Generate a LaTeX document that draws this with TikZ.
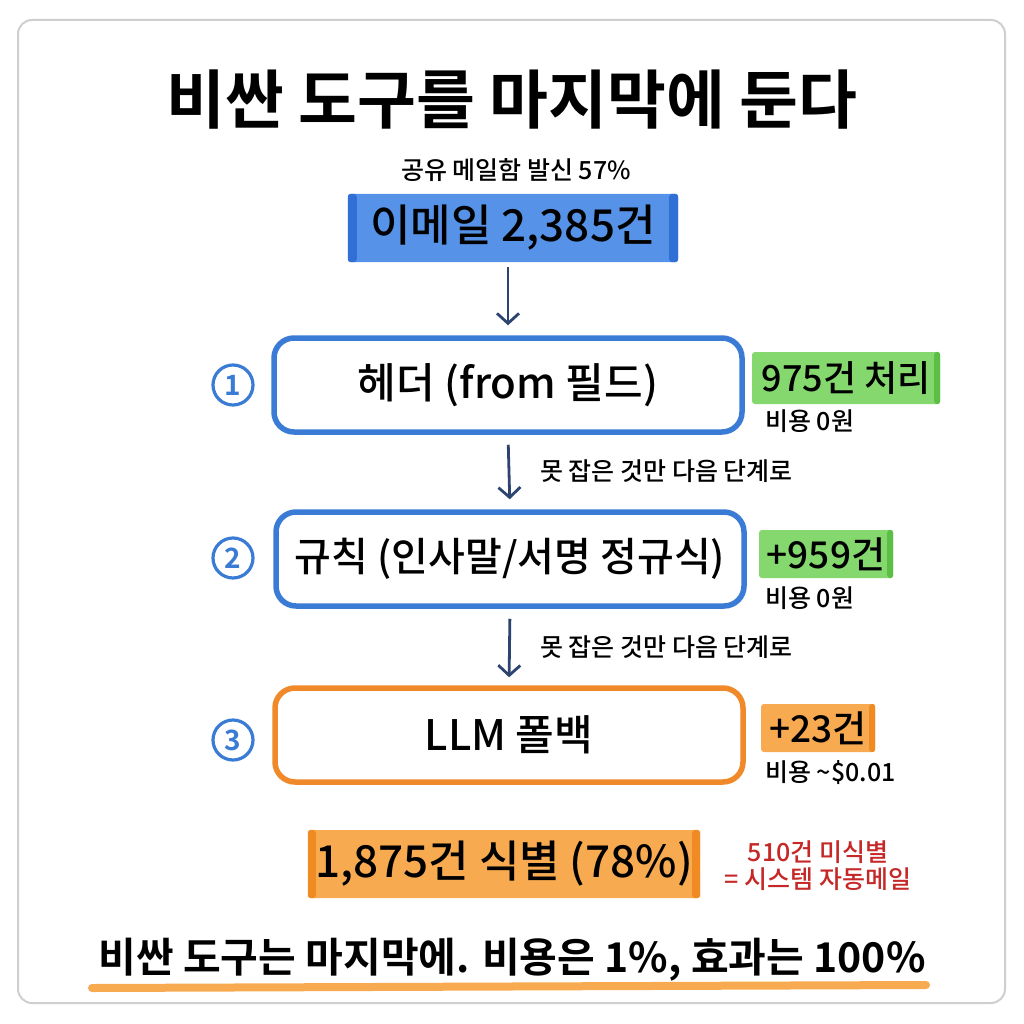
\documentclass[tikz,border=0pt]{standalone}
\usepackage{fontspec}
\setmainfont{Noto Sans CJK KR}[UprightFont=* Medium, BoldFont=* Bold]
\usetikzlibrary{arrows.meta}
\definecolor{hlblue}{HTML}{5592E8}
\definecolor{hlblueend}{HTML}{2F6FD6}
\definecolor{boxblue}{HTML}{3A7BD5}
\definecolor{boxorange}{HTML}{F0892A}
\definecolor{hlgreen}{HTML}{84D86E}
\definecolor{hlgreenend}{HTML}{5DBE46}
\definecolor{hlorange}{HTML}{F8AA50}
\definecolor{hlorangeend}{HTML}{F08A22}
\definecolor{arrowcol}{HTML}{2E4470}
\definecolor{redtext}{HTML}{C62828}
\definecolor{framegray}{HTML}{CFCFCF}
\newcommand{\fsz}[1]{\fontsize{#1}{#1}\selectfont}
\tikzset{
  hl/.style={inner sep=0pt, minimum height=#1, rounded corners=3pt},
  stage/.style={draw, line width=5.5pt, rounded corners=20pt, minimum width=468pt, minimum height=94pt, fill=white, font=\fsz{42}},
  numcirc/.style={circle, draw=boxblue, line width=3.2pt, text=boxblue, minimum size=40pt, inner sep=0pt, font=\fsz{28}\bfseries},
  flow/.style={draw=arrowcol, line width=2.8pt, -{Straight Barb[length=10pt,width=22pt,line width=2.8pt]}},
  small/.style={font=\fsz{25}, anchor=west, inner sep=0pt},
}
\begin{document}
\begin{tikzpicture}[x=1pt,y=-1pt]
\useasboundingbox (0,0) rectangle (1024,1024);
\fill[white] (0,0) rectangle (1024,1024);
\draw[framegray, line width=2pt, rounded corners=14pt] (18,20) rectangle (1005,1003);

\node[font=\fsz{64}\bfseries] (title) at (512,100) {비싼 도구를 마지막에 둔다};
\node[font=\fsz{25}] (sub) at (516,170) {공유 메일함 발신 57\%};

% email highlight
\node[hl=68pt, fill=hlblue, minimum width=330pt] (email) at (513,228) {};
\fill[hlblueend, rounded corners=3pt] (email.north west) rectangle ([xshift=9pt]email.south west);
\fill[hlblueend, rounded corners=3pt] (email.north east) rectangle ([xshift=-9pt]email.south east);
\node[font=\fsz{44}] at (email.center) {이메일 2,385건};

% stages
\node[stage, draw=boxblue] (s1) at (508,385) {헤더 (from 필드)};
\node[stage, draw=boxblue, font=\fsz{40}] (s2) at (510,559) {규칙 (인사말/서명 정규식)};
\node[stage, draw=boxorange] (s3) at (509,735) {LLM 폴백};

\node[numcirc] (n1) at (233,385) {1};
\node[numcirc] (n2) at (233,558) {2};
\node[numcirc] (n3) at (233,740) {3};

% arrows
\draw[flow, shorten <=5pt, shorten >=10pt] (email.south -| s1.north) -- (s1.north);
\draw[flow, shorten <=10pt, shorten >=10pt] (s1.south) -- (s2.north);
\draw[flow, shorten <=10pt, shorten >=8pt] (s2.south) -- (s3.north);
\node[small] (lab1) at (540,471) {못 잡은 것만 다음 단계로};
\node[small] (lab2) at (540,647) {못 잡은 것만 다음 단계로};

% result 1
\node[hl=52pt, fill=hlgreen, minimum width=188pt] (r1) at (846,378) {};
\fill[hlgreenend, rounded corners=3pt] (r1.north east) rectangle ([xshift=-6pt]r1.south east);
\node[font=\fsz{36}] at (r1.center) {975건 처리};
\node[small] (c1) at (765,421) {비용 0원};

% result 2
\node[hl=48pt, fill=hlgreen, minimum width=134pt] (r2) at (826,554) {};
\fill[hlgreenend, rounded corners=3pt] (r2.north east) rectangle ([xshift=-6pt]r2.south east);
\node[font=\fsz{37}] at (r2.center) {+959건};
\node[small] (c2) at (765,598) {비용 0원};

% result 3
\node[hl=48pt, fill=hlorange, minimum width=114pt] (r3) at (818,728) {};
\fill[hlorangeend, rounded corners=3pt] (r3.north east) rectangle ([xshift=-6pt]r3.south east);
\node[font=\fsz{37}] at (r3.center) {+23건};
\node[small] (c3) at (765,773) {비용 \textasciitilde\$0.01};

% total
\node[hl=68pt, fill=hlorange, minimum width=392pt] (tot) at (504,864) {};
\fill[hlorangeend, rounded corners=3pt] (tot.north west) rectangle ([xshift=8pt]tot.south west);
\fill[hlorangeend, rounded corners=3pt] (tot.north east) rectangle ([xshift=-8pt]tot.south east);
\node[font=\fsz{44}] at (tot.center) {1,875건 식별 (78\%)};

\node[font=\fsz{25}, text=redtext, align=center] (unid) at (818,866) {510건 미식별\\[2pt]= 시스템 자동메일};

% bottom line
\node[font=\fsz{41}\bfseries] (concl) at (512,960) {비싼 도구는 마지막에. 비용은 1\%, 효과는 100\%};
\coordinate (ua) at (92,988);
\coordinate (ub) at (926,985);
\draw[hlorange, line width=8pt, line cap=round] (ua) -- (ub);
\end{tikzpicture}
\end{document}
